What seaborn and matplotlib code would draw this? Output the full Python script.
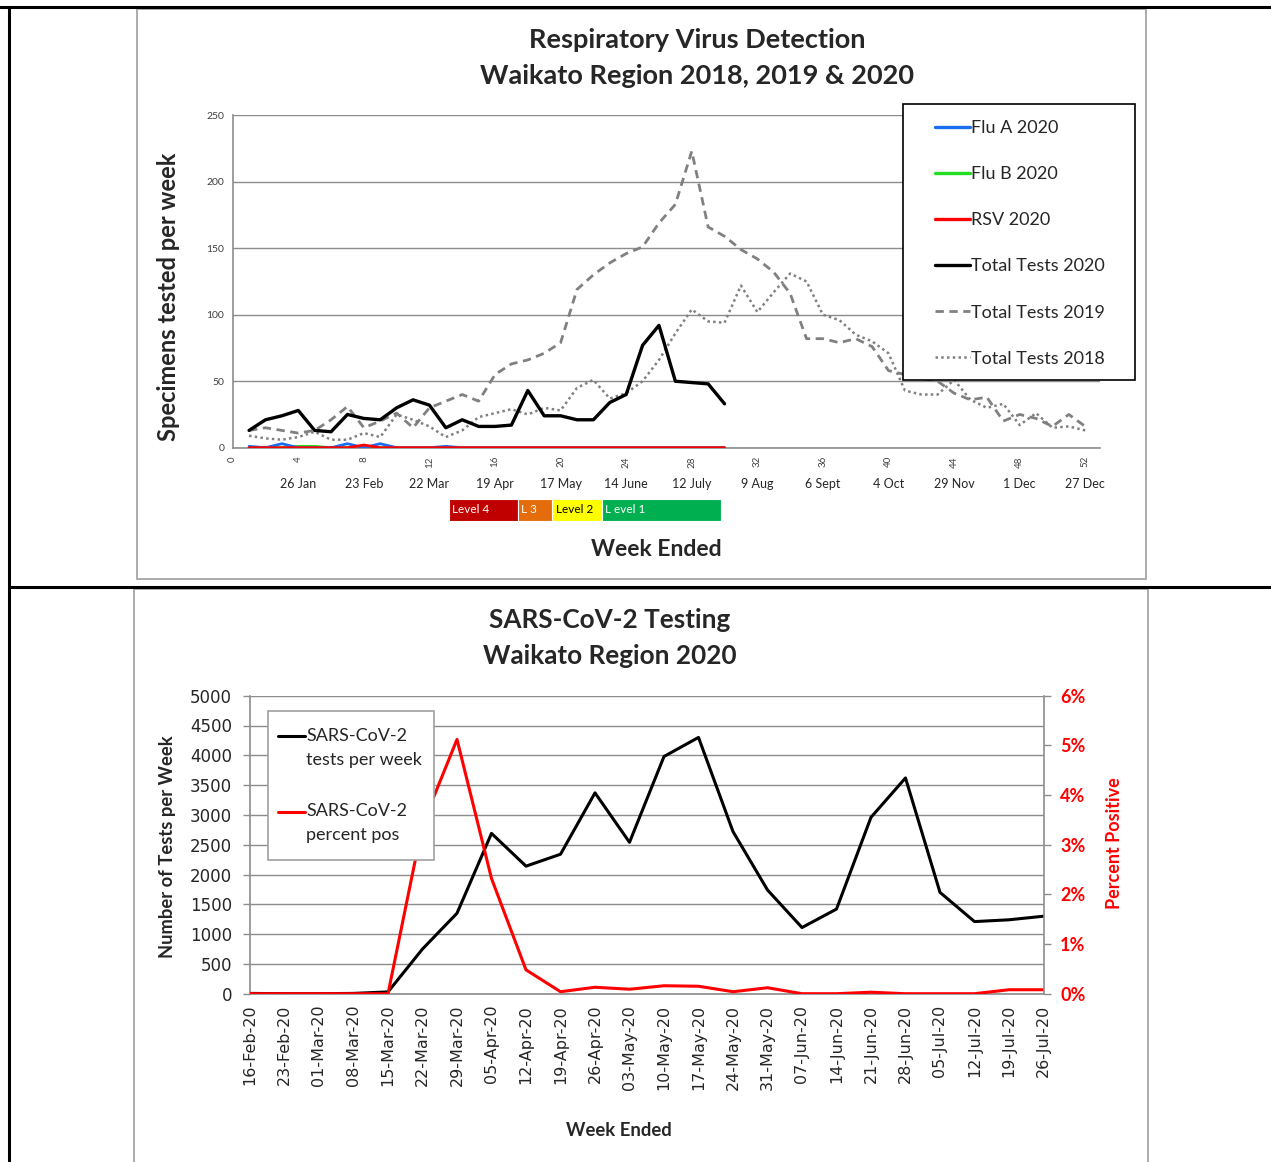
import numpy as np
import pandas as pd
import matplotlib.pyplot as plt
import seaborn as sns
from matplotlib.patches import Rectangle
from matplotlib.lines import Line2D
from matplotlib.legend_handler import HandlerLine2D

# --- DATA: respiratory virus detection (top chart) ---
weeks_2020 = list(range(1, 31))
flu_a_2020 = [1, 0, 3, 0, 0, 0, 3, 0, 3, 0, 0, 0, 1, 0, 0,
              0, 0, 0, 0, 0, 0, 0, 0, 0, 0, 0, 0, 0, 0, 0]
flu_b_2020 = [0, 0, 0, 1, 1, 0, 0, 1, 0, 0, 0, 0, 0, 0, 0,
              0, 0, 0, 0, 0, 0, 0, 0, 0, 0, 0, 0, 0, 0, 0]
rsv_2020 = [0, 0, 0, 0, 0, 0, 0, 2, 0, 0, 0, 0, 0, 0, 0,
            0, 0, 0, 0, 0, 0, 0, 0, 0, 0, 0, 0, 0, 0, 0]
total_2020 = [13, 21, 24, 28, 13, 12, 25, 22, 21, 30, 36, 32, 15, 21, 16,
              16, 17, 43, 24, 24, 21, 21, 34, 40, 77, 92, 50, 49, 48, 33]

weeks_full = list(range(1, 53))
total_2019 = [13, 15, 13, 11, 13, 21, 31, 15, 20, 26, 15, 30, 35, 40, 35, 55, 63, 66,
              71, 79, 119, 130, 139, 146, 151, 169, 183, 223, 166, 159, 149, 142, 132,
              116, 82, 82, 79, 82, 76, 58, 55, 52, 50, 41, 36, 38, 20, 25, 22, 16, 25, 16]
total_2018 = [9, 7, 6, 8, 12, 6, 6, 11, 8, 25, 21, 16, 8, 13, 23, 26, 29, 25,
              30, 28, 45, 51, 37, 41, 50, 66, 86, 104, 95, 94, 122, 102, 117,
              131, 125, 100, 96, 85, 80, 71, 43, 40, 40, 51, 36, 30, 33, 17, 26, 15, 16, 13]

week_ticks = list(range(0, 53, 4))
month_labels = ['26 Jan', '23 Feb', '22 Mar', '19 Apr', '17 May', '14 June', '12 July',
                '9 Aug', '6 Sept', '4 Oct', '29 Nov', '1 Dec', '27 Dec']
month_weeks = list(range(4, 53, 4))

level_names = ['Level 4', 'L 3', 'Level 2', 'L evel 1']
level_start = [13.2, 17.4, 19.5, 22.5]
level_end = [17.4, 19.5, 22.5, 29.8]
level_colors = ['#C00000', '#E46C0A', '#FFFF00', '#00B050']
level_text_colors = ['white', 'white', 'black', 'white']

# --- DATA: SARS-CoV-2 testing (bottom chart) ---
week_dates = ['16-Feb-20', '23-Feb-20', '01-Mar-20', '08-Mar-20', '15-Mar-20', '22-Mar-20',
              '29-Mar-20', '05-Apr-20', '12-Apr-20', '19-Apr-20', '26-Apr-20', '03-May-20',
              '10-May-20', '17-May-20', '24-May-20', '31-May-20', '07-Jun-20', '14-Jun-20',
              '21-Jun-20', '28-Jun-20', '05-Jul-20', '12-Jul-20', '19-Jul-20', '26-Jul-20']
tests_per_week = [5, 0, 0, 5, 30, 750, 1350, 2690, 2140, 2340, 3370, 2540,
                  3980, 4300, 2720, 1740, 1110, 1420, 2960, 3620, 1700, 1210, 1240, 1300]
percent_pos = [0, 0, 0, 0, 0, 3.4, 5.12, 2.32, 0.48, 0.04, 0.13, 0.09,
               0.16, 0.15, 0.04, 0.12, 0.0, 0.0, 0.03, 0.0, 0.0, 0.0, 0.08, 0.08]

W, H = 1271, 1162


def fx(x):
    return x / W


def fy(y):
    return 1 - y / H


class FirstLineHandler(HandlerLine2D):
    """Puts the legend line level with the first line of a two-line label."""
    def create_artists(self, legend, orig_handle, xdescent, ydescent, width, height,
                       fontsize, trans):
        arts = super().create_artists(legend, orig_handle, xdescent, ydescent, width,
                                      height, fontsize, trans)
        for a in arts:
            a.set_ydata(np.asarray(a.get_ydata()) + 0.65 * fontsize)
        return arts


sns.set_style("white")
plt.rcParams['font.family'] = ['Lato', 'DejaVu Sans']
GRID = '#8C8C8C'
SPINE = '#8C8C8C'

fig = plt.figure(figsize=(W / 100, H / 100), dpi=100)

# table borders of the document page
for xs, ys in [([0, W], [7, 7]), ([9, 9], [7, H]), ([9, W], [587, 587])]:
    fig.add_artist(Line2D([fx(v) for v in xs], [fy(v) for v in ys], color='black',
                          lw=2.2, transform=fig.transFigure))
# chart frames
fig.add_artist(Rectangle((fx(137), fy(579)), (1146 - 137) / W, (579 - 9) / H, fill=False,
                         edgecolor='#A6A6A6', lw=1.3, transform=fig.transFigure))
fig.add_artist(Rectangle((fx(134), fy(1175)), (1148 - 134) / W, (1175 - 589) / H, fill=False,
                         edgecolor='#A6A6A6', lw=1.3, transform=fig.transFigure))

# --- TOP CHART ---
ax = fig.add_axes([fx(232.7), fy(447.7), (1100 - 232.7) / W, (447.7 - 115.3) / H])
sns.lineplot(x=weeks_full, y=total_2018, ax=ax, color='#808080', lw=1.8,
             linestyle=(0, (1, 1.3)), label='Total Tests 2018', legend=False, zorder=2)
sns.lineplot(x=weeks_full, y=total_2019, ax=ax, color='#808080', lw=2.0,
             linestyle=(0, (3, 2)), label='Total Tests 2019', legend=False, zorder=3)
sns.lineplot(x=weeks_2020, y=total_2020, ax=ax, color='black', lw=2.4,
             label='Total Tests 2020', legend=False, zorder=4)
sns.lineplot(x=weeks_2020, y=flu_b_2020, ax=ax, color='#22DD22', lw=2.0,
             label='Flu B 2020', legend=False, zorder=5)
sns.lineplot(x=weeks_2020, y=flu_a_2020, ax=ax, color='#1A6EF0', lw=2.0,
             label='Flu A 2020', legend=False, zorder=5)
sns.lineplot(x=weeks_2020, y=rsv_2020, ax=ax, color='#FF0000', lw=2.0,
             label='RSV 2020', legend=False, zorder=6)

ax.set_xlim(0, 52.9)
ax.set_ylim(0, 250)
ax.set_yticks(range(0, 251, 50))
ax.set_xticks(week_ticks)
ax.set_xticklabels([str(w) for w in week_ticks], rotation=90, fontsize=7, color='#404040')
ax.tick_params(axis='y', labelsize=7.5, labelcolor='#404040')
ax.tick_params(direction='out', length=4, width=1, color=SPINE, pad=2)
ax.yaxis.grid(True, color=GRID, lw=1)
ax.set_axisbelow(True)
for side in ['top', 'right']:
    ax.spines[side].set_visible(False)
for side in ['left', 'bottom']:
    ax.spines[side].set_color(SPINE)
    ax.spines[side].set_linewidth(1.2)
ax.set_xlabel('')
ax.set_ylabel('')

xt = ax.get_xaxis_transform()
for w, lab in zip(month_weeks, month_labels):
    ax.text(w, -0.109, lab, transform=xt, ha='center', va='center', fontsize=9, color='#262626')

for name, s, e, c, tc in zip(level_names, level_start, level_end, level_colors, level_text_colors):
    ax.add_patch(Rectangle((s, -0.2205), e - s, 0.0662, transform=xt, facecolor=c,
                           edgecolor='white', lw=0.8, clip_on=False))
    ax.text(s + 0.2, -0.187, name, transform=xt, ha='left', va='center', fontsize=8.5, color=tc)

# legend box drawn as its own white panel, legend entries on top of it
ax.add_patch(Rectangle((fx(903), fy(380)), (1135 - 903) / W, (380 - 104) / H,
                       transform=fig.transFigure, facecolor='white', edgecolor='black',
                       lw=1.2, clip_on=False, zorder=9))
h = {l.get_label(): l for l in ax.get_lines()}
order = ['Flu A 2020', 'Flu B 2020', 'RSV 2020', 'Total Tests 2020', 'Total Tests 2019', 'Total Tests 2018']
leg = ax.legend([h[k] for k in order], order, loc='upper left',
                bbox_to_anchor=(fx(935), fy(120)), bbox_transform=fig.transFigure,
                fontsize=13, frameon=False, handlelength=1.95, handletextpad=0.05,
                labelspacing=1.67, borderpad=0, borderaxespad=0)
for ln in leg.get_lines()[:4]:
    ln.set_linewidth(2.4)
leg.set_zorder(10)

fig.text(fx(697), fy(58), 'Respiratory Virus Detection\nWaikato Region 2018, 2019 & 2020',
         ha='center', va='center', fontsize=19.5, fontweight='bold', linespacing=1.55)
fig.text(fx(168), fy(297), 'Specimens tested per week', rotation=90, ha='center', va='center',
         fontsize=17, fontweight='bold')
fig.text(fx(656), fy(550), 'Week Ended', ha='center', va='center', fontsize=16.5, fontweight='bold')

# --- BOTTOM CHART ---
xpos = np.arange(len(week_dates))
axb = fig.add_axes([fx(250), fy(993.7), (1043.5 - 250) / W, (993.7 - 695.7) / H])
sns.lineplot(x=xpos, y=tests_per_week, ax=axb, color='black', lw=2.2, legend=False)
axb2 = axb.twinx()
sns.lineplot(x=xpos, y=percent_pos, ax=axb2, color='#FF0000', lw=2.2, legend=False)

axb.set_xlim(0, len(week_dates) - 1)
axb.set_ylim(0, 5000)
axb.set_yticks(range(0, 5001, 500))
axb.set_xticks(xpos)
axb.set_xticklabels(week_dates, rotation=90, fontsize=11.5, family='DejaVu Sans')
axb.tick_params(axis='y', labelsize=12)
for lab in axb.get_yticklabels():
    lab.set_family('DejaVu Sans')
axb.tick_params(axis='y', direction='out', length=5, width=1, color=SPINE, pad=8)
axb.tick_params(axis='x', direction='out', length=5, width=1, color=SPINE, pad=3)
axb.yaxis.grid(True, color=GRID, lw=1)
axb.set_axisbelow(True)
for side in ['top', 'right']:
    axb.spines[side].set_visible(False)
for side in ['left', 'bottom']:
    axb.spines[side].set_color(SPINE)
    axb.spines[side].set_linewidth(1.2)
axb.set_xlabel('')
axb.set_ylabel('')

axb2.set_ylim(0, 6)
axb2.set_yticks(range(0, 7))
axb2.set_yticklabels([f'{v}%' for v in range(0, 7)], color='#FF0000', fontsize=13,
                     fontweight='bold')
axb2.tick_params(direction='out', length=5, width=1, color=SPINE, pad=7)
for side in ['top', 'left', 'bottom']:
    axb2.spines[side].set_visible(False)
axb2.spines['right'].set_color(SPINE)
axb2.spines['right'].set_linewidth(1.2)
axb2.set_ylabel('')

axb2.add_patch(Rectangle((fx(268), fy(860)), (434 - 268) / W, (860 - 711) / H,
                         transform=fig.transFigure, facecolor='white', edgecolor='#A0A0A0',
                         lw=1.2, clip_on=False, zorder=9))
hb = [axb.get_lines()[0], axb2.get_lines()[0]]
legb = axb2.legend(hb, ['SARS-CoV-2\ntests per week', 'SARS-CoV-2\npercent pos'], loc='upper left',
                   bbox_to_anchor=(fx(278), fy(728)), bbox_transform=fig.transFigure,
                   fontsize=13, frameon=False, handlelength=1.5, handletextpad=0.05,
                   labelspacing=1.95, borderpad=0, borderaxespad=0,
                   handler_map={Line2D: FirstLineHandler()})
for t in legb.get_texts():
    t.set_linespacing(1.62)
legb.set_zorder(10)

fig.text(fx(610), fy(638), 'SARS-CoV-2 Testing\nWaikato Region 2020', ha='center', va='center',
         fontsize=18.8, fontweight='bold', linespacing=1.6)
fig.text(fx(168), fy(847), 'Number of Tests per Week', rotation=90, ha='center', va='center',
         fontsize=13.2, fontweight='bold')
fig.text(fx(1114), fy(843), 'Percent Positive', rotation=90, ha='center', va='center',
         fontsize=13, fontweight='bold', color='#FF0000')
fig.text(fx(619), fy(1131), 'Week Ended', ha='center', va='center', fontsize=13.3, fontweight='bold')

fig.savefig('out.png', dpi=100, facecolor='white')
